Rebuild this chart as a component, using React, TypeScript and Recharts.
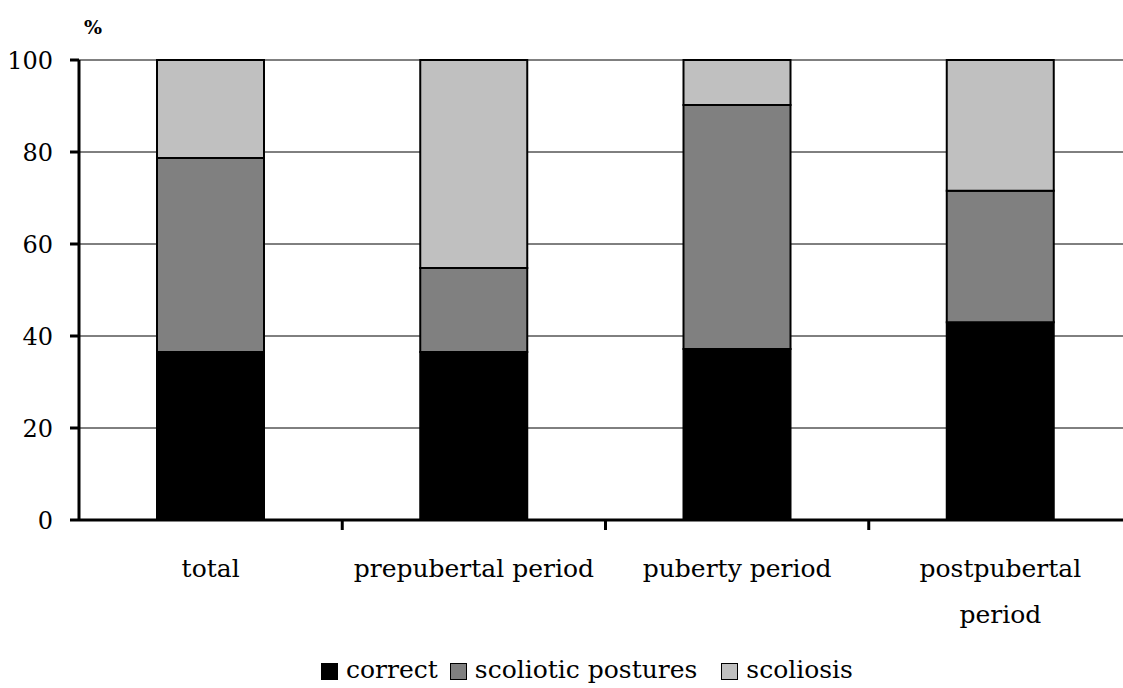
import { Bar, BarChart, CartesianGrid, Legend, XAxis, YAxis } from 'recharts';

const categories = ['total', 'prepubertal period', 'puberty period', 'postpubertal\nperiod'];
const correct = [36.5, 36.5, 37.2, 43.0];
const scolioticPostures = [42.2, 18.3, 53.0, 28.6];
const scoliosis = [21.3, 45.2, 9.8, 28.4];
const yTicks = [0, 20, 40, 60, 80, 100];

const series = [
  { key: 'correct', label: 'correct', color: '#000000' },
  { key: 'scoliotic', label: 'scoliotic postures', color: '#808080' },
  { key: 'scoliosis', label: 'scoliosis', color: '#c0c0c0' },
];

const data = categories.map((name, i) => ({
  name,
  correct: correct[i],
  scoliotic: scolioticPostures[i],
  scoliosis: scoliosis[i],
}));

const FONT = '"DejaVu Serif", serif';

function CategoryTick(props: any) {
  const { x, y, payload, index } = props;
  const offset = payload?.offset ?? 131;
  const lines = String(payload.value).split('\n');
  return (
    <g>
      {index < categories.length - 1 && (
        <line x1={x + offset} x2={x + offset} y1={y - 8} y2={y + 2} stroke="#000" strokeWidth={3} />
      )}
      <text x={x} y={y + 49} textAnchor="middle" fontFamily={FONT} fontSize={25} fill="#000">
        {lines.map((l, i) => (
          <tspan key={i} x={x} dy={i === 0 ? 0 : 46}>
            {l}
          </tspan>
        ))}
      </text>
    </g>
  );
}

function LegendContent() {
  return (
    <div
      style={{
        display: 'flex',
        justifyContent: 'center',
        alignItems: 'center',
        fontFamily: FONT,
        fontSize: 25,
        paddingLeft: 42,
        paddingTop: 2,
        lineHeight: '28px',
      }}
    >
      {series.map((s, i) => (
        <span
          key={s.key}
          style={{ display: 'flex', alignItems: 'center', marginLeft: i === 0 ? 0 : i === 1 ? 12 : 24 }}
        >
          <span
            style={{
              display: 'inline-block',
              width: 15,
              height: 15,
              background: s.color,
              border: '1.5px solid #000',
              marginRight: 8,
              marginTop: 2,
            }}
          />
          {s.label}
        </span>
      ))}
    </div>
  );
}

export default function App() {
  return (
    <div style={{ position: 'absolute', left: 0, top: 0, width: 1123, height: 688, overflow: 'hidden', background: '#fff' }}>
      <div style={{ position: 'absolute', left: 84, top: 16, fontFamily: FONT, fontSize: 19, fontWeight: 'bold' }}>%</div>
      <BarChart
        width={1132}
        height={688}
        data={data}
        margin={{ top: 60, right: 0, bottom: 0, left: 0 }}
        barSize={107}
      >
        <CartesianGrid vertical={false} stroke="#000" strokeWidth={1} />
        <XAxis
          dataKey="name"
          interval={0}
          height={134}
          axisLine={{ stroke: '#000', strokeWidth: 3 }}
          tickLine={false}
          tick={<CategoryTick />}
        />
        <YAxis
          width={79}
          domain={[0, 100]}
          ticks={yTicks}
          interval={0}
          axisLine={{ stroke: '#000', strokeWidth: 3 }}
          tickLine={{ stroke: '#000', strokeWidth: 3 }}
          tickSize={9}
          tickMargin={17}
          tick={{ fontFamily: FONT, fontSize: 24, fill: '#000' }}
        />
        <Legend verticalAlign="bottom" height={34} content={<LegendContent />} />
        {series.map((s) => (
          <Bar
            key={s.key}
            dataKey={s.key}
            stackId="a"
            fill={s.color}
            stroke="#000"
            strokeWidth={2}
            isAnimationActive={false}
          />
        ))}
      </BarChart>
    </div>
  );
}
